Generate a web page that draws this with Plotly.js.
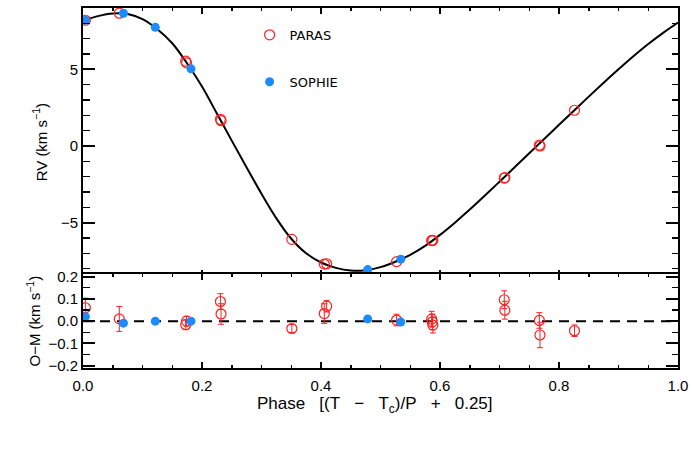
<!DOCTYPE html>
<html>
<head>
<meta charset="utf-8">
<script src="https://cdn.plot.ly/plotly-3.0.1.min.js"></script>
<style>
html,body{margin:0;padding:0;background:#fff;}
#chart{width:692px;height:461px;}
</style>
</head>
<body>
<div id="chart"></div>
<script>
// Model curve
const modelPhase = [0.000,0.025,0.050,0.075,0.100,0.125,0.150,0.175,0.200,0.225,0.250,0.275,0.300,0.325,0.350,0.375,0.400,0.425,0.450,0.475,0.500,0.525,0.550,0.575,0.600,0.625,0.650,0.675,0.700,0.725,0.750,0.775,0.800,0.825,0.850,0.875,0.900,0.925,0.950,0.975,1.000];
const modelRV = [8.18,8.47,8.64,8.61,8.28,7.62,6.70,5.38,3.88,2.12,0.35,-1.40,-3.12,-4.72,-6.05,-7.00,-7.60,-7.95,-8.12,-8.10,-7.90,-7.55,-7.10,-6.52,-5.80,-5.00,-4.15,-3.25,-2.33,-1.40,-0.47,0.45,1.38,2.30,3.22,4.12,5.00,5.85,6.65,7.38,8.05];

// PARAS
const parasPhase = [0.004,0.061,0.1726,0.174,0.231,0.232,0.351,0.4055,0.4095,0.527,0.586,0.587,0.588,0.708,0.709,0.767,0.768,0.826];
const parasRV    = [8.20,8.66,5.53,5.42,1.74,1.65,-6.09,-7.70,-7.68,-7.54,-6.16,-6.17,-6.15,-2.09,-2.07,0.05,0.00,2.33];
const parasOMC   = [0.060,0.010,-0.016,0.000,0.088,0.032,-0.033,0.034,0.067,0.005,0.009,-0.003,-0.018,0.096,0.049,0.003,-0.062,-0.043];
const parasErr   = [0.043,0.056,0.022,0.022,0.035,0.046,0.018,0.044,0.026,0.026,0.035,0.035,0.035,0.040,0.040,0.035,0.057,0.026];

// SOPHIE
const sophiePhase = [0.004,0.068,0.1215,0.1815,0.4785,0.534];
const sophieRV    = [8.20,8.66,7.74,5.03,-8.06,-7.38];
const sophieOMC   = [0.020,-0.009,0.000,0.000,0.010,-0.004];

// Zero line for residuals
const zeroX = [0, 1];
const zeroY = [0, 0];

const RED = '#ff2020';
const BLUE = '#1a8cff';

const traces = [
  {x: modelPhase, y: modelRV, mode:'lines', line:{color:'black', width:2, shape:'spline', smoothing:1}, xaxis:'x', yaxis:'y', showlegend:false, hoverinfo:'skip'},
  {x: parasPhase, y: parasRV, mode:'markers', name:'PARAS', legendgroup:'a',
   marker:{symbol:'circle-open', size:10, color:RED, line:{width:1.2, color:RED}}, xaxis:'x', yaxis:'y'},
  {x: sophiePhase, y: sophieRV, mode:'markers', name:'SOPHIE', legendgroup:'b',
   marker:{symbol:'circle', size:9, color:BLUE}, xaxis:'x', yaxis:'y'},
  {x: zeroX, y: zeroY, mode:'lines', line:{color:'black', width:2, dash:'10px,7px'}, xaxis:'x2', yaxis:'y2', showlegend:false, hoverinfo:'skip'},
  {x: parasPhase, y: parasOMC, mode:'markers', showlegend:false,
   error_y:{type:'data', array: parasErr, visible:true, color:RED, thickness:1, width:3},
   marker:{symbol:'circle-open', size:10, color:RED, line:{width:1.2, color:RED}}, xaxis:'x2', yaxis:'y2'},
  {x: sophiePhase, y: sophieOMC, mode:'markers', showlegend:false,
   marker:{symbol:'circle', size:9, color:BLUE}, xaxis:'x2', yaxis:'y2'}
];

const FONT = 'Liberation Sans, Arial, sans-serif';
const tickFont = {family:FONT, size:15, color:'black'};

const commonX = {
  range:[0,1], dtick:0.2, tick0:0, ticks:'inside', ticklen:6, tickwidth:2, tickcolor:'black',
  showline:true, linecolor:'black', linewidth:2, mirror:'ticks', showgrid:false, zeroline:false,
  minor:{dtick:0.05, ticks:'inside', ticklen:3, tickwidth:1.5, tickcolor:'black', showgrid:false},
  tickfont: tickFont, tickformat:'.1f'
};

const S = '\u00a0\u00a0\u00a0';
const xTitle = 'Phase' + S + '[(T' + S + '−' + S + 'T<sub>c</sub>)/P' + S + '+' + S + '0.25]';

const layout = {
  width:692, height:461,
  margin:{l:83, r:14, t:8, b:93},
  paper_bgcolor:'white', plot_bgcolor:'white',
  showlegend:true,
  legend:{x:0.28, y:0.967, xanchor:'left', yanchor:'top', bgcolor:'rgba(0,0,0,0)',
          font:{family:'DejaVu Sans, sans-serif', size:13, color:'black'},
          tracegroupgap:27, traceorder:'grouped', itemwidth:30},
  xaxis: Object.assign({}, commonX, {anchor:'y', showticklabels:false}),
  xaxis2: Object.assign({}, commonX, {anchor:'y2', showticklabels:true, ticklabelstandoff:3}),
  yaxis: {domain:[0.2547,1], anchor:'x', range:[-8.5,9.0], dtick:5, tick0:0, ticks:'inside', ticklen:12, tickwidth:2, tickcolor:'black',
    showline:true, linecolor:'black', linewidth:2, mirror:'ticks', showgrid:false, zeroline:false,
    minor:{dtick:1, ticks:'inside', ticklen:6.5, tickwidth:1.5, tickcolor:'black', showgrid:false},
    tickfont: tickFont,
    title:{text:'RV (km s<sup>−1</sup>)', font:{family:FONT, size:15, color:'black'}, standoff:10}},
  yaxis2: {domain:[0,0.2603], anchor:'x2', range:[-0.21,0.21], dtick:0.1, tick0:0, ticks:'inside', ticklen:12, tickwidth:2, tickcolor:'black',
    showline:true, linecolor:'black', linewidth:2, mirror:'ticks', showgrid:false, zeroline:false,
    minor:{dtick:0.05, ticks:'inside', ticklen:6.5, tickwidth:1.5, tickcolor:'black', showgrid:false},
    tickfont: tickFont, tickformat:'.1f',
    title:{text:'O−M (km s<sup>−1</sup>)', font:{family:FONT, size:15, color:'black'}, standoff:4}},
  annotations:[
    {text: xTitle, xref:'paper', yref:'paper', x:0.49, y:-0.104, xanchor:'center', yanchor:'middle',
     showarrow:false, font:{family:FONT, size:17, color:'black'}}
  ]
};

Plotly.newPlot('chart', traces, layout, {displayModeBar:false, staticPlot:true});
</script>
</body>
</html>
